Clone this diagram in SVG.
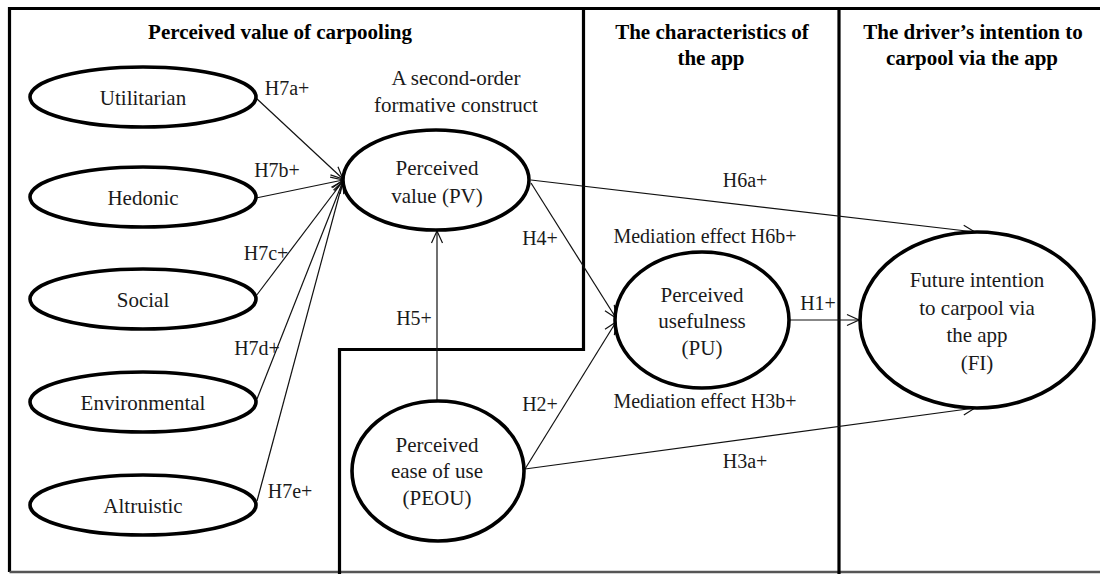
<svg xmlns="http://www.w3.org/2000/svg" width="1100" height="574" viewBox="0 0 1100 574">
  <style>
    .frame { fill: none; stroke: #000; stroke-width: 3.2; }
    .node { fill: #fff; stroke: #000; stroke-width: 3.6; }
    .edge { fill: none; stroke: #111; stroke-width: 1.2; }
    .head { font-family: "Liberation Serif", "Times New Roman", serif; font-weight: bold; font-size: 21px; fill: #000; text-anchor: middle; }
    .txt { font-family: "Liberation Serif", "Times New Roman", serif; font-size: 21px; fill: #1a1a1a; text-anchor: middle; }
    .lbl { font-family: "Liberation Serif", "Times New Roman", serif; font-size: 20px; fill: #1a1a1a; text-anchor: middle; }
  </style>
  <defs>
    <!-- open V arrowhead -->
    <marker id="arrow" markerUnits="userSpaceOnUse" markerWidth="14" markerHeight="14" refX="13" refY="7" orient="auto">
      <path d="M1,1.5 L13,7 L1,12.5" fill="none" stroke="#111" stroke-width="1.2"/>
    </marker>
  </defs>

  <rect width="1100" height="574" fill="#fff"/>

  <!-- panel frame and dividers -->
  <g id="frame">
    <path class="frame" d="M1100,8.5 L9.5,8.5 L9.5,572"/>
    <line x1="9.5" y1="572" x2="1100" y2="572" stroke="#555" stroke-width="2.5"/>
    <path class="frame" d="M583.5,8.5 L583.5,349.5 L339.5,349.5 L339.5,574"/>
    <line class="frame" x1="839" y1="8.5" x2="839" y2="574"/>
  </g>

  <!-- section headings -->
  <g id="headings">
    <text class="head" x="280" y="39">Perceived value of carpooling</text>
    <text class="head" x="712" y="39">The characteristics of</text>
    <text class="head" x="711" y="65">the app</text>
    <text class="head" x="973" y="39">The driver’s intention to</text>
    <text class="head" x="972" y="65">carpool via the app</text>
    <text class="txt" x="456" y="85">A second-order</text>
    <text class="txt" x="456" y="112">formative construct</text>
  </g>

  <!-- connectors -->
  <g id="connectors">
    <line class="edge" x1="256" y1="98" x2="343" y2="179" marker-end="url(#arrow)"/>
    <line class="edge" x1="256" y1="198" x2="343" y2="180" marker-end="url(#arrow)"/>
    <line class="edge" x1="256" y1="296" x2="343" y2="181" marker-end="url(#arrow)"/>
    <line class="edge" x1="257" y1="399" x2="343" y2="181" marker-end="url(#arrow)"/>
    <line class="edge" x1="257" y1="501" x2="343" y2="181" marker-end="url(#arrow)"/>
    <line class="edge" x1="531" y1="180" x2="975" y2="232" marker-end="url(#arrow)"/>
    <line class="edge" x1="531" y1="183" x2="616" y2="318" marker-end="url(#arrow)"/>
    <line class="edge" x1="437" y1="401" x2="437" y2="231" marker-end="url(#arrow)"/>
    <line class="edge" x1="525" y1="469" x2="616" y2="322" marker-end="url(#arrow)"/>
    <line class="edge" x1="525" y1="469" x2="975" y2="408" marker-end="url(#arrow)"/>
    <line class="edge" x1="789" y1="320" x2="859" y2="320" marker-end="url(#arrow)"/>
  </g>

  <!-- path labels -->
  <g id="labels">
    <text class="lbl" x="287" y="95">H7a+</text>
    <text class="lbl" x="277" y="177">H7b+</text>
    <text class="lbl" x="266" y="260">H7c+</text>
    <text class="lbl" x="257" y="355">H7d+</text>
    <text class="lbl" x="290" y="498">H7e+</text>
    <text class="lbl" x="745" y="187">H6a+</text>
    <text class="lbl" x="540" y="245">H4+</text>
    <text class="lbl" x="705" y="243">Mediation effect H6b+</text>
    <text class="lbl" x="818" y="310">H1+</text>
    <text class="lbl" x="414" y="325">H5+</text>
    <text class="lbl" x="540" y="411">H2+</text>
    <text class="lbl" x="705" y="408">Mediation effect H3b+</text>
    <text class="lbl" x="745" y="468">H3a+</text>
  </g>

  <!-- first-order dimensions -->
  <g id="utilitarian">
    <ellipse class="node" cx="143" cy="97" rx="113" ry="30"/>
    <text class="txt" x="143" y="105">Utilitarian</text>
  </g>
  <g id="hedonic">
    <ellipse class="node" cx="143" cy="197" rx="113" ry="30"/>
    <text class="txt" x="143" y="205">Hedonic</text>
  </g>
  <g id="social">
    <ellipse class="node" cx="143" cy="299" rx="113" ry="30"/>
    <text class="txt" x="143" y="307">Social</text>
  </g>
  <g id="environmental">
    <ellipse class="node" cx="143" cy="402" rx="113" ry="30"/>
    <text class="txt" x="143" y="410">Environmental</text>
  </g>
  <g id="altruistic">
    <ellipse class="node" cx="143" cy="505" rx="113" ry="30"/>
    <text class="txt" x="143" y="513">Altruistic</text>
  </g>

  <!-- constructs -->
  <g id="pv">
    <ellipse class="node" cx="436" cy="180" rx="93" ry="50"/>
    <text class="txt" x="437" y="175">Perceived</text>
    <text class="txt" x="437" y="203">value (PV)</text>
  </g>
  <g id="pu">
    <ellipse class="node" cx="702" cy="320" rx="87" ry="68"/>
    <text class="txt" x="702" y="302">Perceived</text>
    <text class="txt" x="702" y="328">usefulness</text>
    <text class="txt" x="702" y="355">(PU)</text>
  </g>
  <g id="peou">
    <ellipse class="node" cx="438" cy="471" rx="86" ry="70"/>
    <text class="txt" x="437" y="452">Perceived</text>
    <text class="txt" x="437" y="478">ease of use</text>
    <text class="txt" x="437" y="505">(PEOU)</text>
  </g>
  <g id="fi">
    <ellipse class="node" cx="977" cy="320" rx="117" ry="88"/>
    <text class="txt" x="977" y="287">Future intention</text>
    <text class="txt" x="977" y="315">to carpool via</text>
    <text class="txt" x="977" y="342">the app</text>
    <text class="txt" x="977" y="370">(FI)</text>
  </g>
</svg>
